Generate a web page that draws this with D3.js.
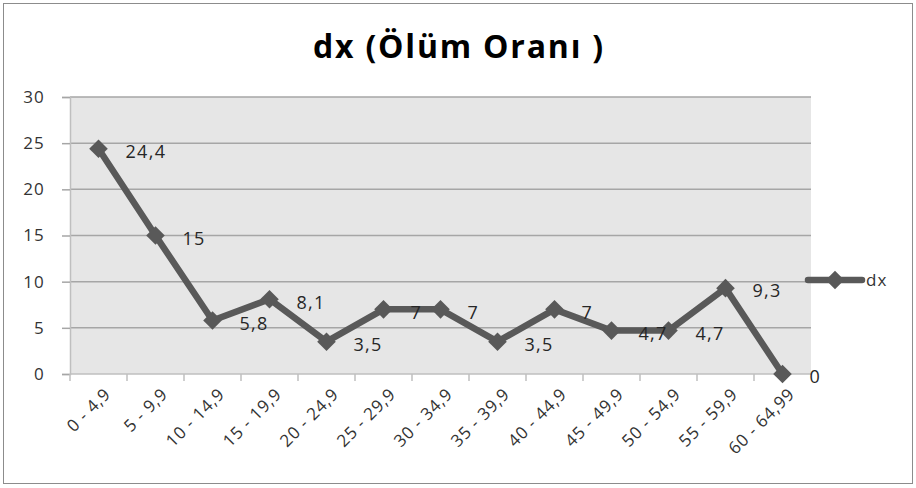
<!DOCTYPE html>
<html>
<head>
<meta charset="utf-8">
<script src="https://cdn.jsdelivr.net/npm/d3@7"></script>
<style>
  body { margin: 0; background: #fff; }
  svg { display: block; font-family: "Open Sans", Lato, sans-serif; }
</style>
</head>
<body>
<svg id="chart" width="916" height="488"></svg>
<script>
// age groups and death rates (dx)
var categories = ["0 - 4,9", "5 - 9,9", "10 - 14,9", "15 - 19,9", "20 - 24,9", "25 - 29,9", "30 - 34,9",
                  "35 - 39,9", "40 - 44,9", "45 - 49,9", "50 - 54,9", "55 - 59,9", "60 - 64,99"];
var dxValues = [24.4, 15, 5.8, 8.1, 3.5, 7, 7, 3.5, 7, 4.7, 4.7, 9.3, 0];
var yTicks = [0, 5, 10, 15, 20, 25, 30];
var seriesName = "dx";
var title = "dx (Ölüm Oranı )";

var svg = d3.select("#chart"),
    margin = {top: 97, right: 105, bottom: 114, left: 70},
    width = +svg.attr("width") - margin.left - margin.right,
    height = +svg.attr("height") - margin.top - margin.bottom;

var lineColor = "#595959";
var fmt = function(v) { return String(v).replace(".", ","); };

// outer border
svg.append("rect")
    .attr("x", 3.5).attr("y", 3.5)
    .attr("width", 909).attr("height", 480)
    .attr("fill", "#fff")
    .attr("stroke", "#8c8c8c")
    .attr("stroke-width", 1);

svg.append("text")
    .attr("x", 459)
    .attr("y", 58)
    .attr("text-anchor", "middle")
    .style("font-size", "32px")
    .style("font-weight", "bold")
    .style("letter-spacing", "1.8px")
    .attr("fill", "#000")
    .text(title);

var g = svg.append("g").attr("transform", "translate(" + margin.left + "," + margin.top + ")");

var x = d3.scaleBand().domain(categories).range([0, width]);
var y = d3.scaleLinear().domain([0, 30]).range([height, 0]);

g.append("rect")
    .attr("width", width)
    .attr("height", height)
    .attr("fill", "#e6e6e6");

// horizontal gridlines
g.append("g")
    .selectAll("line")
    .data(yTicks.slice(1))
    .enter().append("line")
    .attr("x1", 0).attr("x2", width)
    .attr("y1", function(d) { return y(d); })
    .attr("y2", function(d) { return y(d); })
    .attr("stroke", "#a6a6a6")
    .attr("stroke-width", 1.5);

// y axis
var yAxis = g.append("g")
    .call(d3.axisLeft(y).tickValues(yTicks).tickSize(8).tickPadding(17));
yAxis.select(".domain").attr("stroke", "#bfbfbf").attr("stroke-width", 1.5);
yAxis.selectAll(".tick line").attr("stroke", "#a6a6a6").attr("stroke-width", 1.5);
yAxis.selectAll("text")
    .style("font-size", "17px")
    .style("letter-spacing", "1.2px")
    .attr("fill", "#333")
    .attr("font-family", "'Open Sans', sans-serif");

// x axis: ticks at band edges
var xAxis = g.append("g").attr("transform", "translate(0," + height + ")");
xAxis.append("line")
    .attr("x1", 0).attr("x2", width)
    .attr("stroke", "#bfbfbf").attr("stroke-width", 1.5);
xAxis.selectAll(".edge")
    .data(categories)
    .enter().append("line")
    .attr("class", "edge")
    .attr("x1", function(d) { return x(d); })
    .attr("x2", function(d) { return x(d); })
    .attr("y1", 0).attr("y2", 7)
    .attr("stroke", "#bfbfbf").attr("stroke-width", 1.5);
xAxis.selectAll(".lbl")
    .data(categories)
    .enter().append("text")
    .attr("class", "lbl")
    .attr("text-anchor", "end")
    .attr("transform", function(d) {
        return "translate(" + (x(d) + x.bandwidth() / 2 + 9) + ",17) rotate(-45)";
    })
    .attr("dy", "0.35em")
    .style("font-size", "17px")
    .style("letter-spacing", "0.8px")
    .attr("fill", "#333")
    .text(function(d) { return d; });

// line + markers
var line = d3.line()
    .x(function(d, i) { return x(categories[i]) + x.bandwidth() / 2; })
    .y(function(d) { return y(d); });

g.append("path")
    .datum(dxValues)
    .attr("fill", "none")
    .attr("stroke", lineColor)
    .attr("stroke-width", 6.5)
    .attr("stroke-linejoin", "round")
    .attr("d", line);

var diamond = d3.symbol().type(d3.symbolDiamond2).size(220);

g.selectAll(".pt")
    .data(dxValues)
    .enter().append("path")
    .attr("class", "pt")
    .attr("transform", function(d, i) {
        return "translate(" + (x(categories[i]) + x.bandwidth() / 2) + "," + y(d) + ")";
    })
    .attr("d", diamond)
    .attr("fill", lineColor);

g.selectAll(".val")
    .data(dxValues)
    .enter().append("text")
    .attr("class", "val")
    .attr("x", function(d, i) { return x(categories[i]) + x.bandwidth() / 2 + 27; })
    .attr("y", function(d) { return y(d) + 3; })
    .attr("dy", "0.35em")
    .style("font-size", "18px")
    .style("letter-spacing", "1.3px")
    .attr("fill", "#262626")
    .text(function(d) { return fmt(d); });

// legend
var legend = svg.append("g").attr("transform", "translate(808,280)");
legend.append("line")
    .attr("x1", 0).attr("x2", 54)
    .attr("stroke", lineColor).attr("stroke-width", 6.5)
    .attr("stroke-linecap", "round");
legend.append("path")
    .attr("transform", "translate(27,0)")
    .attr("d", diamond)
    .attr("fill", lineColor);
legend.append("text")
    .attr("x", 58)
    .attr("dy", "0.35em")
    .style("font-size", "17px")
    .style("letter-spacing", "1px")
    .attr("fill", "#333")
    .text(seriesName);
</script>
</body>
</html>
